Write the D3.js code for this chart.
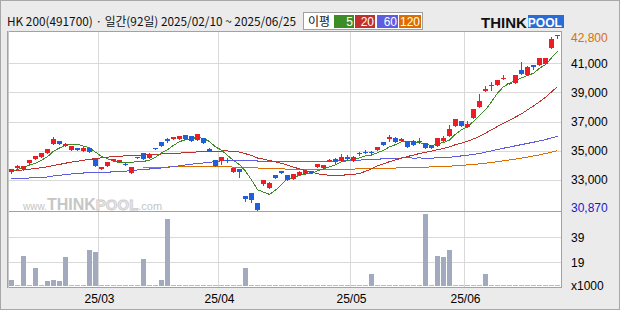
<!DOCTYPE html>
<html><head><meta charset="utf-8">
<script src="https://cdn.jsdelivr.net/npm/d3@7/dist/d3.min.js"></script>
<style>html,body{margin:0;padding:0;background:#ebebeb;}svg{display:block;}</style>
</head><body><svg id="chart" width="620" height="310"></svg>
<script>
const dates = ["2025-02-10","2025-02-11","2025-02-12","2025-02-13","2025-02-14","2025-02-17","2025-02-18","2025-02-19","2025-02-20","2025-02-21","2025-02-24","2025-02-25","2025-02-26","2025-02-27","2025-02-28",
"2025-03-04","2025-03-05","2025-03-06","2025-03-07","2025-03-10","2025-03-11","2025-03-12","2025-03-13","2025-03-14","2025-03-17","2025-03-18","2025-03-19","2025-03-20","2025-03-21","2025-03-24","2025-03-25","2025-03-26","2025-03-27","2025-03-28","2025-03-31",
"2025-04-01","2025-04-02","2025-04-03","2025-04-04","2025-04-07","2025-04-08","2025-04-09","2025-04-10","2025-04-11","2025-04-14","2025-04-15","2025-04-16","2025-04-17","2025-04-18","2025-04-21","2025-04-22","2025-04-23","2025-04-24","2025-04-25","2025-04-28","2025-04-29","2025-04-30",
"2025-05-02","2025-05-07","2025-05-08","2025-05-09","2025-05-12","2025-05-13","2025-05-14","2025-05-15","2025-05-16","2025-05-19","2025-05-20","2025-05-21","2025-05-22","2025-05-23","2025-05-26","2025-05-27","2025-05-28","2025-05-29","2025-05-30",
"2025-06-02","2025-06-04","2025-06-05","2025-06-09","2025-06-10","2025-06-11","2025-06-12","2025-06-13","2025-06-16","2025-06-17","2025-06-18","2025-06-19","2025-06-20","2025-06-23","2025-06-24","2025-06-25"];

const openP = [33530,33825,33755,34170,34445,34580,34835,35475,35660,35335,35060,35180,34995,35180,34400,33755,33960,34265,34215,34100,33480,34510,34815,34510,35180,35590,35795,35820,35775,36070,36005,35750,35865,35110,34355,34285,34355,33550,33735,31880,32085,31400,32725,32450,33300,33585,33325,33070,33325,33390,33600,33895,33825,34285,34425,34265,34580,34265,34835,34925,34905,35040,35590,35795,35865,35640,35640,35680,35590,35520,35365,35295,35660,36005,36710,37035,36620,37240,38015,39075,39530,39530,39920,39555,39645,40540,40175,40885,40905,40950,42050,42960];
const highP = [33755,34030,33940,34355,34650,34855,35110,35955,35660,35545,35315,35180,35270,35180,34400,33875,34235,34425,34355,34120,33875,34560,34815,34815,35180,35590,35865,35955,36025,36070,36005,36120,35865,35200,34355,34560,34470,33805,33735,31880,32085,31400,32960,32860,33300,33585,33325,33390,33620,33600,33600,34080,34010,34425,34510,34765,34720,34630,34925,35040,34970,35225,35590,36095,35955,35865,35640,35750,35845,35520,35365,35865,35985,36740,37185,37035,37015,37860,38910,39460,39695,39875,40195,39625,40195,41090,40795,40885,41365,41365,42800,42970];
const lowP = [33480,33825,33685,34170,34445,34580,34835,35475,35475,35335,35060,35060,34970,34925,33960,33755,33960,34265,34215,34040,33480,34510,34445,34510,35130,35335,35590,35820,35775,35820,35680,35750,35545,34970,33960,34100,34195,33550,33205,31535,31490,30870,32635,32450,33135,33475,32980,33070,33325,33390,33440,33895,33825,34285,34125,34265,34355,34265,34700,34815,34785,35040,35405,35660,35610,35640,35270,35405,35520,35200,35180,35295,35660,36005,36710,36710,36620,37240,38015,39075,39145,39530,39920,39555,39645,40265,40175,40610,40905,40950,42050,42720];
const closeP = [33715,33920,33940,34355,34650,34855,35110,35820,35475,35475,35315,35060,35200,34925,33960,33875,34235,34425,34355,34060,33875,34560,34445,34745,35130,35335,35660,35915,36025,35820,35680,36120,35545,34970,33960,34560,34305,33805,33550,31695,31605,30915,32960,32795,33135,33475,32980,33390,33550,33600,33440,34080,34010,34355,34195,34560,34400,34560,34785,34855,34835,35225,35405,35955,35610,35795,35270,35405,35660,35200,35180,35865,35885,36505,37185,36710,36810,37860,38410,39235,39420,39875,40010,39625,40195,40265,40725,40765,41365,41365,42650,42920];
const volume = [4600,0,24000,0,14400,0,3700,4600,4000,23200,0,0,0,28800,27200,0,0,0,0,0,0,0,21600,0,0,4600,53600,0,0,0,0,0,0,0,0,0,0,0,0,14400,0,0,0,0,0,0,0,0,0,0,0,0,0,0,0,0,0,0,0,0,9600,0,0,0,0,0,0,0,0,57600,0,24000,23200,28800,0,0,0,0,0,9600,0,0,0,0,0,0,0,0,0,0,0,0];

const ma5 = [33565,33700,33840,34010,34116,34344,34582,34957,35181,35346,35438,35429,35305,35195,34893,34604,34439,34284,34170,34189,34189,34254,34258,34336,34551,34843,35063,35358,35613,35751,35819,35911,35837,35627,35255,35031,34669,34321,34036,33583,32992,32314,32145,31994,32282,32656,33069,33155,33306,33399,33392,33612,33735,33896,34016,34240,34304,34414,34501,34633,34688,34853,35022,35256,35407,35599,35607,35607,35548,35466,35342,35462,35558,35727,36125,36431,36619,37014,37395,37804,38346,38959,39389,39632,39825,39994,40164,40315,40663,40897,41374,41814];
const ma20 = [33598,33632,33680,33722,33770,33825,33887,33976,34051,34134,34210,34271,34340,34395,34450,34505,34553,34588,34615,34636,34644,34676,34701,34721,34745,34769,34796,34801,34829,34846,34864,34917,34934,34936,34936,34971,34974,34943,34903,34785,34671,34489,34415,34318,34218,34125,33991,33865,33741,33630,33518,33416,33339,33308,33320,33320,33325,33363,33424,33582,33744,33959,34082,34240,34364,34480,34594,34695,34800,34880,34967,35057,35151,35258,35408,35515,35635,35800,35981,36200,36430,36662,36892,37076,37305,37528,37801,38069,38354,38663,39036,39389];
const ma60 = [33082,33075,33082,33117,33151,33165,33186,33254,33302,33350,33392,33426,33460,33481,33502,33509,33515,33543,33563,33584,33625,33667,33701,33735,33770,33804,33845,33900,33955,34010,34065,34113,34148,34196,34251,34299,34320,34327,34327,34320,34306,34285,34258,34237,34223,34216,34220,34225,34230,34236,34243,34252,34262,34274,34287,34300,34315,34330,34347,34367,34388,34410,34434,34461,34477,34493,34496,34489,34492,34487,34485,34498,34509,34535,34589,34636,34679,34736,34804,34890,34982,35071,35164,35245,35329,35411,35495,35576,35665,35757,35873,35986];
const ma120 = [null,null,null,null,null,null,null,null,null,null,null,null,null,null,null,null,null,null,null,null,null,null,
33850,33852,33855,33860,33870,33885,33900,33915,33925,33928,33925,33920,33905,33890,33880,33870,33860,33845,33825,33805,33785,33770,33755,33740,33730,33722,33716,33712,33710,33710,33712,33715,33718,33722,33727,33733,33740,33748,33756,33766,33778,33790,33803,33816,33828,33840,33852,33865,33878,33893,33910,33930,33955,33985,34015,34050,34090,34135,34185,34240,34298,34358,34420,34485,34555,34630,34710,34795,34895,35000];

const priceTicks = [33000,35000,37000,39000,41000];
const volTicks = [19000,39000];
const maLabels = ["5","20","60","120"];
const highMark = 42800, lowMark = 30870;
const titleText = "HK 200(491700) · 일간(92일) 2025/02/10 ~ 2025/06/25";

const maColors = ["#3e8c26","#c0302c","#5e5ce0","#dc6e00"];
const upColor = "#ee1c24", downColor = "#1e5fe0";
const gridColor = "#d9d9d9", frameColor = "#a2a2a2";
const axisFont = "'Liberation Sans', Arial, sans-serif";

const svg = d3.select("#chart");
const L = 7, R = 562, T = 31, M = 212, B = 288;

svg.append("rect").attr("x",0.5).attr("y",0.5).attr("width",619).attr("height",309)
  .attr("fill","#ebebeb").attr("stroke","#a8a8a8");
svg.append("rect").attr("x",L).attr("y",T).attr("width",R-L).attr("height",B-T).attr("fill","#fff");

const n = dates.length;
const x = d3.scaleBand().domain(d3.range(n)).range([8, 560]).padding(0);
const y = d3.scaleLinear().domain([30780, 43220]).range([M, T]);
const yv = d3.scaleLinear().domain([0, 60000]).range([286, 211]);

// gridlines
const g = svg.append("g").attr("shape-rendering","crispEdges");
priceTicks.forEach(v => {
  const yy = Math.round(y(v)) + 0.5;
  g.append("line").attr("x1",L).attr("x2",R).attr("y1",yy).attr("y2",yy).attr("stroke",gridColor);
});
volTicks.forEach(v => {
  const yy = Math.round(yv(v)) + 0.5;
  g.append("line").attr("x1",L).attr("x2",R).attr("y1",yy).attr("y2",yy).attr("stroke",gridColor);
});
const monthStarts = d3.range(1, n).filter(i => dates[i].slice(5,7) !== dates[i-1].slice(5,7));
monthStarts.forEach(i => {
  const xx = x(i) + 0.5;
  g.append("line").attr("x1",xx).attr("x2",xx).attr("y1",T).attr("y2",B).attr("stroke",gridColor);
});

// watermark (one text, natural flow)
const wm = svg.append("text").attr("x",23).attr("y",210)
  .attr("font-family",axisFont);
wm.append("tspan").attr("font-size",10).attr("fill","#c4c4c4").text("www.");
wm.append("tspan").attr("font-size",16).attr("font-weight","bold").attr("fill","#c6c6c6").text("THINK");
wm.append("tspan").attr("font-size",15).attr("font-weight","bold").attr("fill","#e8e8e8")
  .attr("stroke","#cdcdcd").attr("stroke-width",0.8).text("POOL");
wm.append("tspan").attr("font-size",11).attr("fill","#c4c4c4").text(".com");

// volume bars
svg.append("g").attr("shape-rendering","crispEdges").selectAll("rect").data(volume).join("rect")
  .attr("x",(d,i)=>x(i)+1).attr("width",5)
  .attr("y",d => d > 0 ? Math.round(yv(d)) : 285)
  .attr("height",d => d > 0 ? 286 - Math.round(yv(d)) : 1)
  .attr("fill",d => d > 0 ? "#a2aabf" : "#b4bacb");

// moving averages
const mas = [ma120, ma60, ma20, ma5];
const masCol = [maColors[3], maColors[2], maColors[1], maColors[0]];
mas.forEach((arr, k) => {
  const line = d3.line().defined(d => d != null).x((d,i)=>x(i)+3.5).y(d=>y(d));
  svg.append("path").datum(arr).attr("d",line).attr("fill","none")
    .attr("stroke",masCol[k]).attr("stroke-width",1).attr("shape-rendering","crispEdges");
});

// candles
const cg = svg.append("g").attr("shape-rendering","crispEdges");
d3.range(n).forEach(i => {
  const o = openP[i], c = closeP[i], h = highP[i], l = lowP[i];
  const col = c >= o ? upColor : downColor;
  const xc = x(i) + 3.5;
  cg.append("line").attr("x1",xc).attr("x2",xc).attr("y1",Math.round(y(h))).attr("y2",Math.round(y(l))+1).attr("stroke",col);
  const y0 = Math.round(y(Math.max(o,c))), y1 = Math.round(y(Math.min(o,c)));
  cg.append("rect").attr("x",x(i)+1).attr("width",5).attr("y",y0).attr("height",Math.max(1,y1-y0)).attr("fill",col);
});

// frame
const fr = svg.append("g").attr("shape-rendering","crispEdges").attr("stroke",frameColor).attr("fill","none");
fr.append("rect").attr("x",L+0.5).attr("y",T+0.5).attr("width",R-L-1).attr("height",B-T-1);
fr.append("line").attr("x1",L).attr("x2",R).attr("y1",M-0.5).attr("y2",M-0.5);
fr.append("line").attr("x1",L+1.5).attr("x2",L+1.5).attr("y1",T).attr("y2",B).attr("stroke","#c8c8c8");

// right axis labels
const ax = svg.append("g").attr("font-family",axisFont).attr("font-size",12);
priceTicks.forEach(v => {
  ax.append("text").attr("x",571).attr("y",y(v)+4.5).attr("fill","#000").text(d3.format(",")(v));
});
ax.append("text").attr("x",571).attr("y",y(highMark)+4.5).attr("fill","#d8700c").text(d3.format(",")(highMark));
ax.append("text").attr("x",571).attr("y",y(lowMark)+1).attr("fill","#1a1acc").text(d3.format(",")(lowMark));
volTicks.forEach(v => {
  ax.append("text").attr("x",571).attr("y",yv(v)+4.5).attr("fill","#000").text(Math.round(v/1000));
});
ax.append("text").attr("x",571).attr("y",290).attr("fill","#000").text("x1000");

// x labels
monthStarts.forEach(i => {
  const d = dates[i];
  ax.append("text").attr("x",x(i)+1.5).attr("y",303).attr("text-anchor","middle").attr("fill","#000")
    .text(d.slice(2,4) + "/" + d.slice(5,7));
});

// header
svg.append("text").attr("x",7).attr("y",26).attr("font-family","'Noto Sans CJK KR', sans-serif")
  .attr("font-size",12).attr("fill","#111").attr("textLength",289).attr("lengthAdjust","spacingAndGlyphs")
  .text(titleText);

// legend
const lg = svg.append("g").attr("font-family","'Noto Sans CJK KR', sans-serif").attr("font-size",12);
lg.append("rect").attr("x",303.5).attr("y",12.5).attr("width",119).attr("height",17)
  .attr("fill","#fff").attr("stroke","#a0a0a0").attr("shape-rendering","crispEdges");
lg.append("text").attr("x",308).attr("y",26).attr("fill","#111").text("이평");
const boxX = [334, 355, 377, 399], boxW = [20, 20, 21, 22];
maLabels.forEach((t,k) => {
  lg.append("rect").attr("x",boxX[k]).attr("y",15).attr("width",boxW[k]).attr("height",13)
    .attr("fill",maColors[k]).attr("shape-rendering","crispEdges");
  lg.append("text").attr("x",boxX[k]+boxW[k]-1).attr("y",26).attr("text-anchor","end")
    .attr("font-family",axisFont).attr("fill","#fff").text(t);
});

// logo (one text element over a blue block)
svg.append("rect").attr("x",528).attr("y",15).attr("width",36).attr("height",13).attr("fill","#2a6cd6");
const lo = svg.append("text").attr("x",481).attr("y",28).attr("font-family",axisFont).attr("font-weight","bold");
lo.append("tspan").attr("font-size",15).attr("fill","#111").text("THINK");
lo.append("tspan").attr("font-size",12).attr("dx",1).attr("dy",-1).attr("fill","#fff").text("POOL");
</script></body></html>
